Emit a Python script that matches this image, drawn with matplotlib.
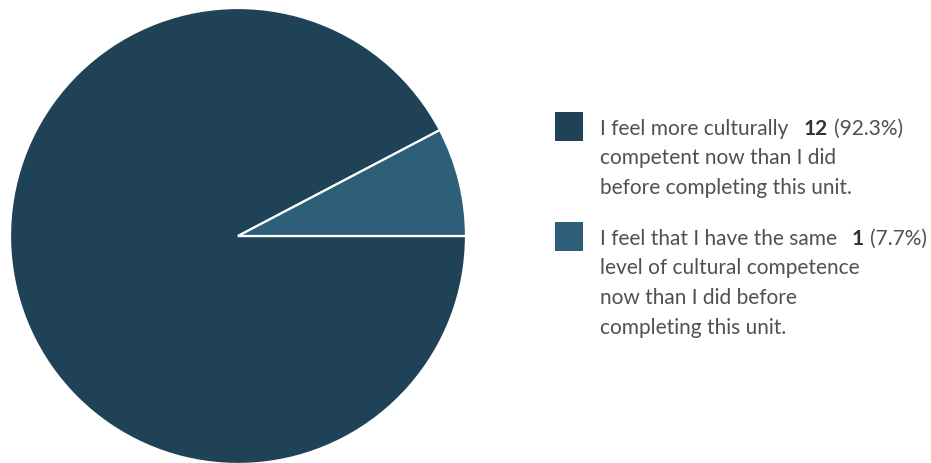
import matplotlib.pyplot as plt
from matplotlib.patches import Rectangle

# data
labels = [
    ["I feel more culturally", "competent now than I did", "before completing this unit."],
    ["I feel that I have the same", "level of cultural competence", "now than I did before", "completing this unit."],
]
counts = [12, 1]
colors = ["#1f4256", "#2e5f78"]

W, H = 931, 463
fig = plt.figure(figsize=(W / 100, H / 100), dpi=100)
plt.rcParams['font.family'] = ['Lato', 'DejaVu Sans']

# pie, placed in pixel coords: center (238, 236), radius 228
cx, cy, r = 238, 236, 228
ax = fig.add_axes([(cx - r) / W, (H - cy - r) / H, 2 * r / W, 2 * r / H])
total = sum(counts)
start = 360 * counts[1] / total
ax.pie(counts, colors=colors, startangle=start, counterclock=True,
       wedgeprops=dict(edgecolor="white", linewidth=1.6), radius=1)
ax.set_xlim(-1, 1)
ax.set_ylim(-1, 1)
ax.set_aspect("equal")
ax.axis("off")

txtcol = "#505050"
fs = 15
tops = [112, 222]
for i in range(2):
    y0 = tops[i]
    fig.patches.append(Rectangle((555 / W, 1 - (y0 + 29) / H), 28 / W, 29 / H,
                                 transform=fig.transFigure, facecolor=colors[i],
                                 edgecolor="none"))
    first = None
    for j, line in enumerate(labels[i]):
        yb = y0 + 23 + j * 29.5
        t = fig.text(600 / W, 1 - yb / H, line, fontsize=fs, color=txtcol, va="baseline")
        if j == 0:
            first = t
    yb = y0 + 23
    fig.canvas.draw()
    x_end = first.get_window_extent().x1
    tn = fig.text((x_end + 15) / W, 1 - yb / H, str(counts[i]), fontsize=fs,
                  color="#333333", va="baseline", fontweight="bold")
    fig.canvas.draw()
    x_end = tn.get_window_extent().x1
    pct = 100 * counts[i] / total
    fig.text((x_end + 6) / W, 1 - yb / H, "(%.1f%%)" % pct, fontsize=fs, color=txtcol,
             va="baseline")

fig.savefig("out.png", dpi=100)
